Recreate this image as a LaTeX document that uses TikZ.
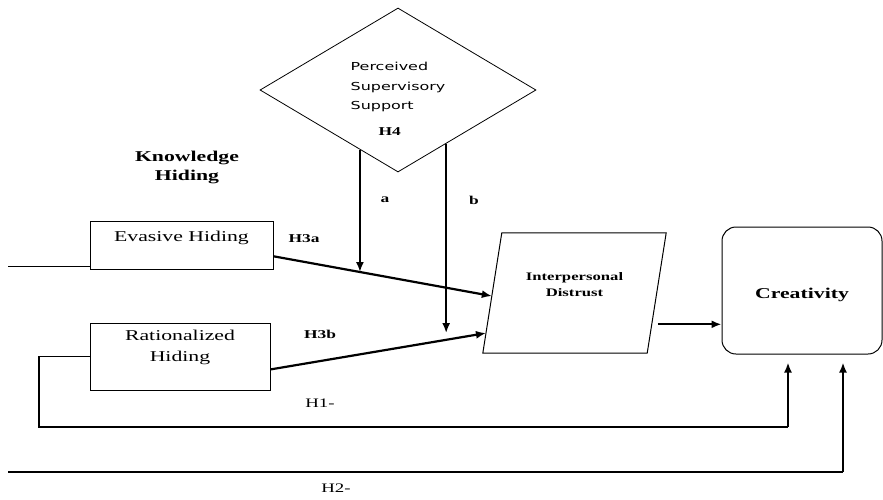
\documentclass[tikz,border=0pt]{standalone}
\usepackage{fontspec}
\setmainfont[FakeStretch=1.45]{Liberation Serif}
\newfontfamily\supfont[FakeStretch=1.45]{DejaVu Sans}
\usetikzlibrary{shapes.geometric,arrows.meta,calc}

\begin{document}
\begin{tikzpicture}[x=1pt,y=-1pt,->,>={Latex[length=10pt,width=8pt]},
  hiding node/.style={rectangle,draw,line width=1pt,inner sep=0pt,
    font=\fontsize{15}{21}\selectfont},
  support node/.style={diamond,draw,line width=0.8pt,inner sep=0pt,shape aspect=1.68,
    minimum width=276pt,minimum height=164pt,font=\supfont\fontsize{11}{19.5}\selectfont},
  distrust node/.style={rectangle,inner sep=0pt,minimum width=183pt,minimum height=120pt,
    font=\bfseries\fontsize{11.5}{16}\selectfont},
  outcome node/.style={rectangle,draw,line width=1pt,rounded corners=14pt,inner sep=0pt,
    minimum width=160pt,minimum height=127pt,font=\bfseries\fontsize{15}{18}\selectfont},
  hyp label/.style={inner sep=0pt,font=\bfseries\fontsize{12}{14}\selectfont},
  path label/.style={inner sep=0pt,font=\fontsize{13}{15}\selectfont},
  arrow line/.style={line width=2.2pt},
  plain line/.style={-,line width=1pt}]

  \useasboundingbox (0,0) rectangle (883,499);

  % moderator
  \node[support node] (pss) at (398,90)
    {\raisebox{-12pt}[0pt][0pt]{\begin{tabular}{@{}l@{}}Perceived\\Supervisory\\Support\\[6pt]%
      \hspace{28pt}{\rmfamily\bfseries\fontsize{12}{14}\selectfont H4}\end{tabular}}};

  % knowledge hiding
  \node[inner sep=0pt,align=center,font=\bfseries\fontsize{15}{19}\selectfont] (kh) at (187,167)
    {Knowledge\\Hiding};
  \node[hiding node,minimum width=183pt,minimum height=48pt] (eva) at (181.5,245)
    {\raisebox{4pt}[0pt][0pt]{Evasive Hiding}};
  \node[hiding node,minimum width=180pt,minimum height=67pt] (rat) at (180,356.5)
    {\raisebox{6pt}[0pt][0pt]{\begin{tabular}{@{}c@{}}Rationalized\\Hiding\end{tabular}}};

  % mediator and outcome
  \node[distrust node] (dist) at (574.5,293)
    {\raisebox{5pt}[0pt][0pt]{\begin{tabular}{@{}c@{}}Interpersonal\\Distrust\end{tabular}}};
  \draw[plain line] (dist.south west) -- ([xshift=19pt]dist.north west)
    -- (dist.north east) -- ([xshift=-19pt]dist.south east) -- cycle;
  \node[outcome node] (cre) at (802,290.5)
    {\raisebox{-7.5pt}[0pt][0pt]{Creativity}};

  % labels
  \node[hyp label] (la) at (385,200) {a};
  \node[hyp label] (lb) at (474,200) {b};
  \node[hyp label] (h3a) at (304,239) {H3a};
  \node[hyp label] (h3b) at (320,334) {H3b};
  \node[path label] (h1) at (320,403) {H1-};
  \node[path label] (h2) at (336,488) {H2-};

  % connector points
  \coordinate (evaLead) at (8,266);
  \coordinate (h3aS) at ($(eva.south east)!0.27!(eva.north east)$);
  \coordinate (h3aE) at ($(dist.south west)!0.475!([xshift=19pt]dist.north west)$);
  \coordinate (h3bS) at ($(rat.south east)!0.31!(rat.north east)$);
  \coordinate (h3bE) at ($(dist.south west)!0.167!([xshift=19pt]dist.north west)$);
  \coordinate (aTop) at ($(pss.west)!0.725!(pss.south)$);
  \coordinate (bTop) at ($(pss.south)!0.348!(pss.east)$);
  \path (h3aS) -- (h3aE) coordinate[pos=0.397] (aEnd);
  \coordinate (dcS) at ($([xshift=-19pt]dist.south east)!0.24!(dist.north east)$);
  \coordinate (h1Turn) at (39,427);
  \coordinate (h1Up) at ([xshift=-14pt]cre.south |- h1Turn);
  \coordinate (h2Lead) at (8,472);
  \coordinate (h2Up) at ([xshift=41pt]cre.south |- h2Lead);

  \draw[plain line] (evaLead) -- (evaLead -| eva.west);
  \draw[arrow line] (h3aS) -- (h3aE);
  \draw[arrow line] (h3bS) -- (h3bE);
  \draw[arrow line] (aTop) -- (aTop |- aEnd);
  \draw[arrow line] (bTop) -- (bTop |- h3bE);
  \draw[arrow line,shorten <=6pt] (dcS) -- (dcS -| cre.west);
  \draw[plain line,line width=1.4pt] (rat.west) -| (h1Turn) -- (h1Up);
  \draw[arrow line,shorten >=8pt] (h1Up) -- ([xshift=-14pt]cre.south);
  \draw[plain line,line width=1.4pt] (h2Lead) -- (h2Up);
  \draw[arrow line,shorten >=8pt] (h2Up) -- ([xshift=41pt]cre.south);
\end{tikzpicture}
\end{document}
